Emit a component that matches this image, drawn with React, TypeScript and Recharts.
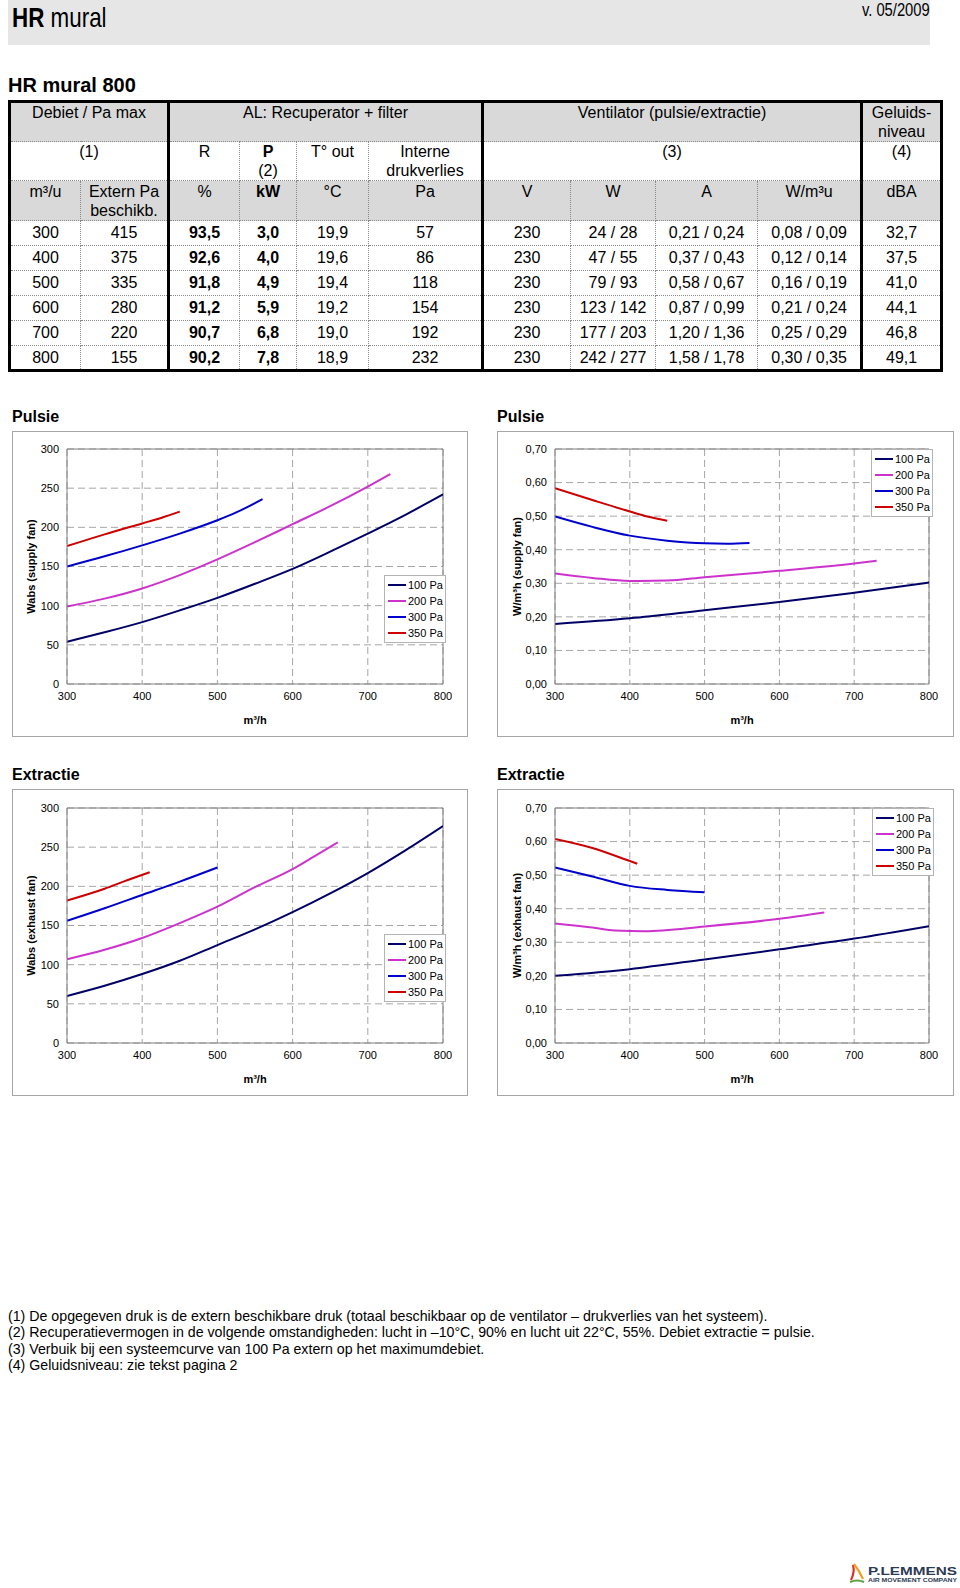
import React from 'react';
import { LineChart, Line, XAxis, YAxis, CartesianGrid, Legend, ReferenceLine } from 'recharts';

const FONT = "'Liberation Sans', Arial, sans-serif";

// ---- table data ----
const flows = ['300', '400', '500', '600', '700', '800'];
const externPa = ['415', '375', '335', '280', '220', '155'];
const rendement = ['93,5', '92,6', '91,8', '91,2', '90,7', '90,2'];
const power = ['3,0', '4,0', '4,9', '5,9', '6,8', '7,8'];
const tempOut = ['19,9', '19,6', '19,4', '19,2', '19,0', '18,9'];
const internLoss = ['57', '86', '118', '154', '192', '232'];
const volts = ['230', '230', '230', '230', '230', '230'];
const watts = ['24 / 28', '47 / 55', '79 / 93', '123 / 142', '177 / 203', '242 / 277'];
const amps = ['0,21 / 0,24', '0,37 / 0,43', '0,58 / 0,67', '0,87 / 0,99', '1,20 / 1,36', '1,58 / 1,78'];
const specific = ['0,08 / 0,09', '0,12 / 0,14', '0,16 / 0,19', '0,21 / 0,24', '0,25 / 0,29', '0,30 / 0,35'];
const noise = ['32,7', '37,5', '41,0', '44,1', '46,8', '49,1'];

// ---- chart data (m³/h, value) ----
const xTicks = [300, 400, 500, 600, 700, 800];
const wabsTicks = [0, 50, 100, 150, 200, 250, 300];
const specTicks = [0, 0.1, 0.2, 0.3, 0.4, 0.5, 0.6, 0.7];
const pressures = ['100 Pa', '200 Pa', '300 Pa', '350 Pa'];
const colors = ['#000066', '#CC33CC', '#0000CC', '#CC0000'];

const supplyWabs100 = [[300, 54], [350, 66], [400, 79], [450, 94], [500, 110], [550, 128], [600, 147], [650, 169], [700, 192], [750, 216], [800, 242]];
const supplyWabs200 = [[300, 99], [350, 109], [400, 122], [450, 139], [500, 159], [550, 181], [600, 204], [650, 227], [700, 252], [730, 268]];
const supplyWabs300 = [[300, 150], [350, 163], [400, 177], [450, 192], [500, 209], [525, 219], [560, 236]];
const supplyWabs350 = [[300, 176], [350, 191], [400, 205], [425, 212], [450, 220]];

const supplySpec100 = [[300, 0.179], [400, 0.196], [500, 0.22], [600, 0.244], [700, 0.272], [800, 0.302]];
const supplySpec200 = [[300, 0.329], [350, 0.316], [400, 0.307], [450, 0.308], [500, 0.318], [600, 0.337], [700, 0.359], [730, 0.367]];
const supplySpec300 = [[300, 0.499], [350, 0.468], [400, 0.442], [450, 0.427], [500, 0.419], [530, 0.418], [560, 0.42]];
const supplySpec350 = [[300, 0.583], [350, 0.548], [400, 0.514], [425, 0.498], [450, 0.486]];

const exhaustWabs100 = [[300, 60], [350, 73], [400, 88], [450, 105], [500, 125], [550, 145], [600, 167], [650, 191], [700, 217], [750, 246], [800, 277]];
const exhaustWabs200 = [[300, 107], [350, 119], [400, 134], [450, 153], [500, 174], [550, 199], [600, 222], [630, 239], [660, 256]];
const exhaustWabs300 = [[300, 156], [350, 172], [400, 189], [450, 206], [500, 224]];
const exhaustWabs350 = [[300, 182], [350, 197], [375, 206], [410, 218]];

const exhaustSpec100 = [[300, 0.2], [400, 0.22], [500, 0.249], [600, 0.279], [700, 0.311], [800, 0.348]];
const exhaustSpec200 = [[300, 0.356], [350, 0.344], [380, 0.335], [420, 0.333], [500, 0.347], [600, 0.37], [660, 0.389]];
const exhaustSpec300 = [[300, 0.523], [350, 0.496], [400, 0.468], [450, 0.456], [500, 0.449]];
const exhaustSpec350 = [[300, 0.608], [350, 0.581], [400, 0.542], [410, 0.534]];

const footnotes = [
  '(1) De opgegeven druk is de extern beschikbare druk (totaal beschikbaar op de ventilator – drukverlies van het systeem).',
  '(2) Recuperatievermogen in de volgende omstandigheden: lucht in –10°C, 90% en lucht uit 22°C, 55%. Debiet extractie = pulsie.',
  '(3) Verbuik bij een systeemcurve van 100 Pa extern op het maximumdebiet.',
  '(4) Geluidsniveau: zie tekst pagina 2',
];

const toPts = (arr: number[][]) => arr.map(([x, y]) => ({ x, y }));

// ---- table ----
const colWidths = [71, 88, 71, 57, 72, 114, 88, 85, 102, 104, 80];
const thick = '3px solid #000';
const dotted = '1px dotted #8a8a8a';
const gray = '#d9d9d9';

function cell(extra: React.CSSProperties = {}): React.CSSProperties {
  return { border: dotted, padding: 0, textAlign: 'center', ...extra };
}

function SpecTable() {
  const sep = (i: number) => (i === 2 || i === 6 || i === 10 ? { borderLeft: thick } : {});
  const rows = flows.map((f, i) => [f, externPa[i], rendement[i], power[i], tempOut[i], internLoss[i], volts[i], watts[i], amps[i], specific[i], noise[i]]);
  const head: React.CSSProperties = { verticalAlign: 'top', lineHeight: '19px' };
  return (
    <table
      style={{
        position: 'absolute', left: 8, top: 100, width: 932, tableLayout: 'fixed',
        borderCollapse: 'collapse', border: thick, fontFamily: FONT, fontSize: 16, color: '#000',
      }}
    >
      <colgroup>
        {colWidths.map((w, i) => <col key={i} style={{ width: w }} />)}
      </colgroup>
      <tbody>
        <tr style={{ height: 40, background: gray }}>
          <td colSpan={2} style={cell(head)}>Debiet / Pa max</td>
          <td colSpan={4} style={cell({ ...head, borderLeft: thick })}>AL: Recuperator + filter</td>
          <td colSpan={4} style={cell({ ...head, borderLeft: thick })}>Ventilator (pulsie/extractie)</td>
          <td style={cell({ ...head, borderLeft: thick })}>Geluids-<br />niveau</td>
        </tr>
        <tr style={{ height: 38 }}>
          <td colSpan={2} style={cell(head)}>(1)</td>
          <td style={cell({ ...head, borderLeft: thick })}>R</td>
          <td style={cell(head)}><b>P</b><br />(2)</td>
          <td style={cell(head)}>T° out</td>
          <td style={cell(head)}>Interne<br />drukverlies</td>
          <td colSpan={4} style={cell({ ...head, borderLeft: thick })}>(3)</td>
          <td style={cell({ ...head, borderLeft: thick })}>(4)</td>
        </tr>
        <tr style={{ height: 38, background: gray }}>
          {['m³/u', 'Extern Pa beschikb.', '%', 'kW', '°C', 'Pa', 'V', 'W', 'A', 'W/m³u', 'dBA'].map((t, i) => (
            <td key={i} style={cell({ ...head, paddingTop: 1, fontWeight: i === 3 ? 'bold' : 'normal', ...sep(i) })}>
              {i === 1 ? <>Extern Pa<br />beschikb.</> : t}
            </td>
          ))}
        </tr>
        {rows.map((r, ri) => (
          <tr key={ri} style={{ height: 25 }}>
            {r.map((v, i) => (
              <td key={i} style={cell({ verticalAlign: 'middle', fontWeight: i === 2 || i === 3 ? 'bold' : 'normal', ...sep(i) })}>{v}</td>
            ))}
          </tr>
        ))}
      </tbody>
    </table>
  );
}

// ---- charts ----
type Series = { name: string; color: string; data: { x: number; y: number }[] };

type ChartProps = {
  left: number; top: number; width: number; height: number;
  title: string; yLabel: string; yMax: number; yTicks: number[];
  yAxisWidth: number; labelOffset: number; marginTop: number;
  series: Series[]; legendLeft: number; legendTop: number;
  fmt: (v: number) => string;
};

function LegendBox({ series }: { series: Series[] }) {
  return (
    <div style={{ background: '#fff', border: '1px solid #b4b4b4', padding: '1px 2px 1px 3px', fontFamily: FONT, fontSize: 11, color: '#000', width: 55, whiteSpace: 'nowrap' }}>
      {series.map((s) => (
        <div key={s.name} style={{ display: 'flex', alignItems: 'center', height: 16 }}>
          <span style={{ display: 'inline-block', width: 18, height: 2, background: s.color, marginRight: 2, flexShrink: 0 }} />
          <span>{s.name}</span>
        </div>
      ))}
    </div>
  );
}

function PerfChart(p: ChartProps) {
  const w = p.width - 2;
  const h = p.height - 2;
  return (
    <>
      <div style={{ position: 'absolute', left: p.left, top: p.top - 23, fontFamily: FONT, fontSize: 16, fontWeight: 'bold' }}>{p.title}</div>
      <div style={{ position: 'absolute', left: p.left, top: p.top, width: w, height: h, border: '1px solid #a6a6a6', background: '#fff' }}>
        <LineChart width={w} height={h} margin={{ top: p.marginTop, right: 24, bottom: 12, left: 0 }}>
          <CartesianGrid stroke="#a6a6a6" strokeDasharray="7 4" />
          <XAxis
            type="number" dataKey="x" domain={[300, 800]} ticks={xTicks} allowDataOverflow
            height={40} tickLine={false} axisLine={{ stroke: '#808080' }}
            tick={{ fill: '#000', fontSize: 11, fontFamily: FONT }}
            label={{ value: 'm³/h', position: 'insideBottom', offset: 0, style: { fontWeight: 'bold', fontSize: 11, fontFamily: FONT, fill: '#000' } }}
          />
          <YAxis
            type="number" domain={[0, p.yMax]} ticks={p.yTicks} allowDataOverflow
            width={p.yAxisWidth} tickLine={false} axisLine={{ stroke: '#808080' }}
            tick={{ fill: '#000', fontSize: 11, fontFamily: FONT }} tickFormatter={p.fmt}
            label={{ value: p.yLabel, angle: -90, position: 'insideLeft', offset: p.labelOffset, style: { textAnchor: 'middle', fontWeight: 'bold', fontSize: 11, fontFamily: FONT, fill: '#000' } }}
          />
          <ReferenceLine y={p.yMax} stroke="#808080" />
          <ReferenceLine x={800} stroke="#808080" />
          <Legend
            layout="vertical" align="center" verticalAlign="middle"
            wrapperStyle={{ position: 'absolute', left: p.legendLeft, top: p.legendTop, width: 'auto', margin: 0 }}
            content={() => <LegendBox series={p.series} />}
          />
          {p.series.map((s) => (
            <Line
              key={s.name} name={s.name} data={s.data} dataKey="y" type="monotone"
              stroke={s.color} strokeWidth={2} dot={false} isAnimationActive={false}
            />
          ))}
        </LineChart>
      </div>
    </>
  );
}

const mk = (arrs: number[][][]): Series[] => arrs.map((a, i) => ({ name: pressures[i], color: colors[i], data: toPts(a) }));

const intFmt = (v: number) => String(v);
const decFmt = (v: number) => v.toFixed(2).replace('.', ',');

function Logo() {
  return (
    <svg style={{ position: 'absolute', left: 846, top: 1560 }} width={114} height={28}>
      <path d="M7 5 Q9 12 5 20" stroke="#e03020" strokeWidth={2.2} fill="none" />
      <path d="M8 4 Q13 10 17 19" stroke="#f0a020" strokeWidth={2.2} fill="none" />
      <path d="M4 22 Q11 19 18 22" stroke="#60a040" strokeWidth={2.2} fill="none" />
      <text x={22} y={15} fontFamily={FONT} fontWeight="bold" fontSize={10} fill="#2c3a55" textLength={89} lengthAdjust="spacingAndGlyphs">P.LEMMENS</text>
      <text x={22} y={21.5} fontFamily={FONT} fontWeight="bold" fontSize={4.6} fill="#2c3a55" textLength={89} lengthAdjust="spacingAndGlyphs">AIR MOVEMENT COMPANY</text>
    </svg>
  );
}

export default function App() {
  return (
    <div style={{ position: 'absolute', left: 0, top: 0, width: 960, height: 1588, background: '#fff', fontFamily: FONT, color: '#000' }}>
      <div style={{ position: 'absolute', left: 8, top: 0, width: 922, height: 45, background: '#e6e6e6' }} />
      <div style={{ position: 'absolute', left: 12, top: 2, fontSize: 28, whiteSpace: 'nowrap', transform: 'scaleX(0.8)', transformOrigin: 'left top' }}>
        <b>HR</b> mural
      </div>
      <div style={{ position: 'absolute', right: 30, top: 0, fontSize: 18, whiteSpace: 'nowrap', transform: 'scaleX(0.82)', transformOrigin: 'right top' }}>
        v. 05/2009
      </div>
      <div style={{ position: 'absolute', left: 8, top: 74, fontSize: 20, fontWeight: 'bold', whiteSpace: 'nowrap' }}>HR mural 800</div>

      <SpecTable />

      <PerfChart
        left={12} top={431} width={456} height={306} title="Pulsie" yLabel="Wabs (supply fan)"
        yMax={300} yTicks={wabsTicks} yAxisWidth={54} labelOffset={18} marginTop={17}
        series={mk([supplyWabs100, supplyWabs200, supplyWabs300, supplyWabs350])}
        legendLeft={371} legendTop={143} fmt={intFmt}
      />
      <PerfChart
        left={497} top={431} width={457} height={306} title="Pulsie" yLabel="W/m³h (supply fan)"
        yMax={0.7} yTicks={specTicks} yAxisWidth={57} labelOffset={19} marginTop={17}
        series={mk([supplySpec100, supplySpec200, supplySpec300, supplySpec350])}
        legendLeft={373} legendTop={17} fmt={decFmt}
      />
      <PerfChart
        left={12} top={789} width={456} height={307} title="Extractie" yLabel="Wabs (exhaust fan)"
        yMax={300} yTicks={wabsTicks} yAxisWidth={54} labelOffset={18} marginTop={18}
        series={mk([exhaustWabs100, exhaustWabs200, exhaustWabs300, exhaustWabs350])}
        legendLeft={371} legendTop={144} fmt={intFmt}
      />
      <PerfChart
        left={497} top={789} width={457} height={307} title="Extractie" yLabel="W/m³h (exhaust fan)"
        yMax={0.7} yTicks={specTicks} yAxisWidth={57} labelOffset={19} marginTop={18}
        series={mk([exhaustSpec100, exhaustSpec200, exhaustSpec300, exhaustSpec350])}
        legendLeft={374} legendTop={18} fmt={decFmt}
      />

      <div style={{ position: 'absolute', left: 8, top: 1308, fontSize: 14.2, lineHeight: '16.4px', whiteSpace: 'nowrap' }}>
        {footnotes.map((f) => <div key={f}>{f}</div>)}
      </div>

      <Logo />
    </div>
  );
}
